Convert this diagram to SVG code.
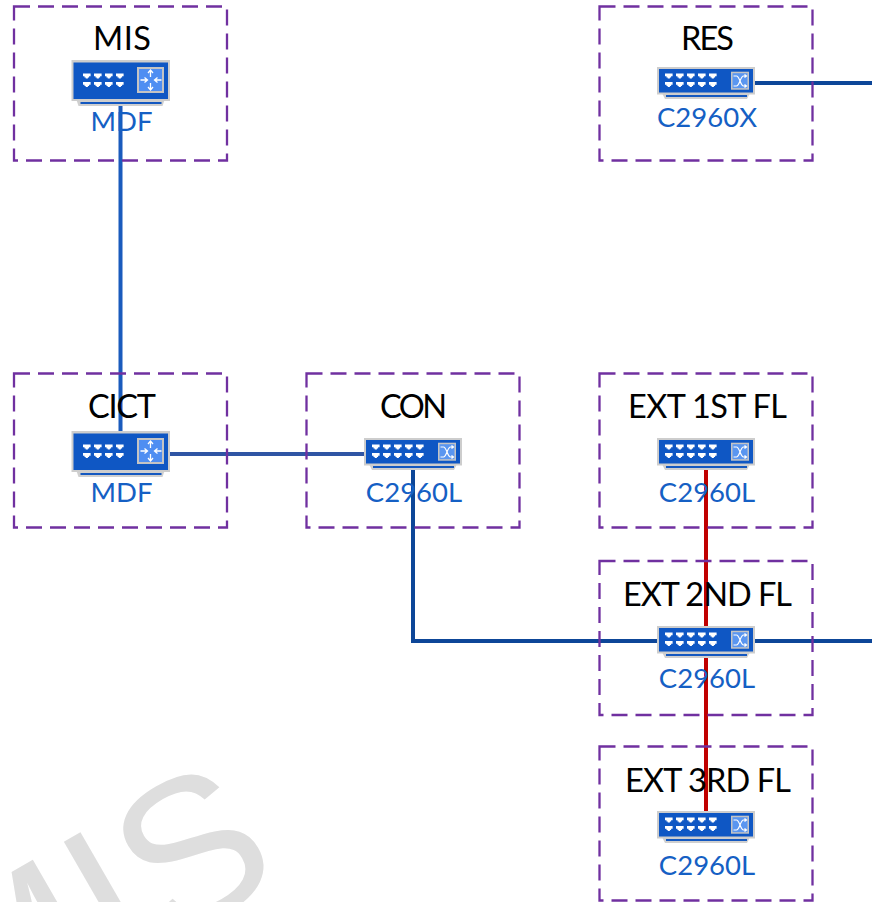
<svg xmlns="http://www.w3.org/2000/svg" width="872" height="902" viewBox="0 0 872 902">
<style>
text{font-family:"Lato","Open Sans","Liberation Sans",sans-serif;text-anchor:middle}
.t{font-size:32.500px;fill:#000}
.s{font-size:27.500px;fill:#1560c4}
.b{fill:none;stroke:#7030a0;stroke-width:2.300;stroke-dasharray:16 8}
.c{fill:none;stroke-width:4}
.wm{font-size:205px;fill:#dedede;font-family:"Liberation Sans",sans-serif;text-anchor:start}
</style>
<defs>
<path id="pt" d="M0 0h7.600v2.800h-1.500v1.300h-1.200v1h-2.200v-1h-1.200v-1.300H0z" fill="#fff"/>
<g id="router">
<path d="M5 40h88l-2 6H7z" fill="#cfcfcf"/><rect x="9" y="42" width="81" height="2" fill="#1458c0"/>
<rect x="0" y="0" width="98.500" height="41" fill="#cdcdcd"/><rect x="2" y="2.500" width="94.500" height="36.500" fill="#0f57c4"/>
<use href="#pt" x="11.500" y="13.500"/><use href="#pt" x="22.500" y="13.500"/><use href="#pt" x="33.500" y="13.500"/><use href="#pt" x="44.500" y="13.500"/>
<use href="#pt" x="11.500" y="22"/><use href="#pt" x="22.500" y="22"/><use href="#pt" x="33.500" y="22"/><use href="#pt" x="44.500" y="22"/>
<rect x="65.500" y="7" width="27" height="26" fill="#c4c4c4"/><rect x="67.500" y="9" width="23" height="22" fill="#4f8ef2"/>
<path d="M79 10v7M76.500 13l2.500-3 2.500 3M79 30v-7M76.500 27l2.500 3 2.500-3M69 20h7M73 17.500l3 2.500-3 2.500M90 20h-7M86 17.500l-3 2.500 3 2.500" fill="none" stroke="#fff" stroke-width="1.300"/>
</g>
<g id="switch">
<path d="M5 26h88l-3 6H8z" fill="#cfcfcf"/><rect x="9" y="28" width="81" height="2" fill="#1458c0"/>
<rect x="0" y="0" width="98" height="27.500" fill="#cdcdcd"/><rect x="2" y="2" width="94" height="23.500" fill="#0f57c4"/>
<use href="#pt" x="8" y="6.500"/><use href="#pt" x="19" y="6.500"/><use href="#pt" x="30" y="6.500"/><use href="#pt" x="41" y="6.500"/><use href="#pt" x="52" y="6.500"/>
<use href="#pt" x="8" y="15"/><use href="#pt" x="19" y="15"/><use href="#pt" x="30" y="15"/><use href="#pt" x="41" y="15"/><use href="#pt" x="52" y="15"/>
<rect x="74" y="4.700" width="18" height="18" fill="#c4c4c4"/><rect x="75.500" y="6.200" width="15" height="15" fill="#5a96f0"/>
<path d="M76.500 9h3c3 0 4 10 7 10h3M76.500 19h3c3 0 4-10 7-10h3M87.500 7.500l2 1.500-2 1.500M87.500 17.500l2 1.500-2 1.500" fill="none" stroke="#fff" stroke-width="1.200"/>
</g>
</defs>
<text class="wm" transform="translate(-30 1059) rotate(-30)">MIS</text>
<g id="connectors">
<path class="c" stroke="#1a5bbd" d="M120.500 106V432"/>
<path class="c" stroke="#2f55a4" d="M170 454H364"/>
<path class="c" stroke="#0d4698" d="M413 465V641H872"/>
<path class="c" stroke="#0d4698" d="M755 83H872"/>
<path class="c" stroke="#c00000" d="M706 470V811"/>
</g>
<g id="mis"><rect class="b" x="14" y="6.500" width="213" height="154"/><text class="t" x="122" y="50" textLength="58">MIS</text><use href="#router" x="71.500" y="60"/><text class="s" x="121.500" y="131">MDF</text></g>
<g id="res"><rect class="b" x="599.500" y="6.500" width="213" height="154"/><text class="t" x="707.500" y="50" textLength="53">RES</text><use href="#switch" x="657" y="67"/><text class="s" x="707" y="127">C2960X</text></g>
<g id="cict"><rect class="b" x="14" y="373.500" width="213" height="154"/><text class="t" x="122" y="418" textLength="68">CICT</text><use href="#router" x="71.500" y="431"/><text class="s" x="121.500" y="502">MDF</text></g>
<g id="con"><rect class="b" x="306.500" y="373.500" width="213" height="154"/><text class="t" x="413.500" y="418" textLength="67">CON</text><use href="#switch" x="364" y="438"/><text class="s" x="414" y="502">C2960L</text></g>
<g id="ext1"><rect class="b" x="599.500" y="373.500" width="213" height="154"/><text class="t" x="707.500" y="418" textLength="159">EXT 1ST FL</text><use href="#switch" x="657" y="438"/><text class="s" x="707" y="502">C2960L</text></g>
<g id="ext2"><rect class="b" x="599.500" y="561" width="213" height="154"/><text class="t" x="707.500" y="606" textLength="169">EXT 2ND FL</text><use href="#switch" x="657" y="626"/><text class="s" x="707" y="688">C2960L</text></g>
<g id="ext3"><rect class="b" x="599.500" y="746.500" width="213" height="154"/><text class="t" x="708" y="792" textLength="166">EXT 3RD FL</text><use href="#switch" x="657" y="811"/><text class="s" x="707" y="875">C2960L</text></g>
</svg>
